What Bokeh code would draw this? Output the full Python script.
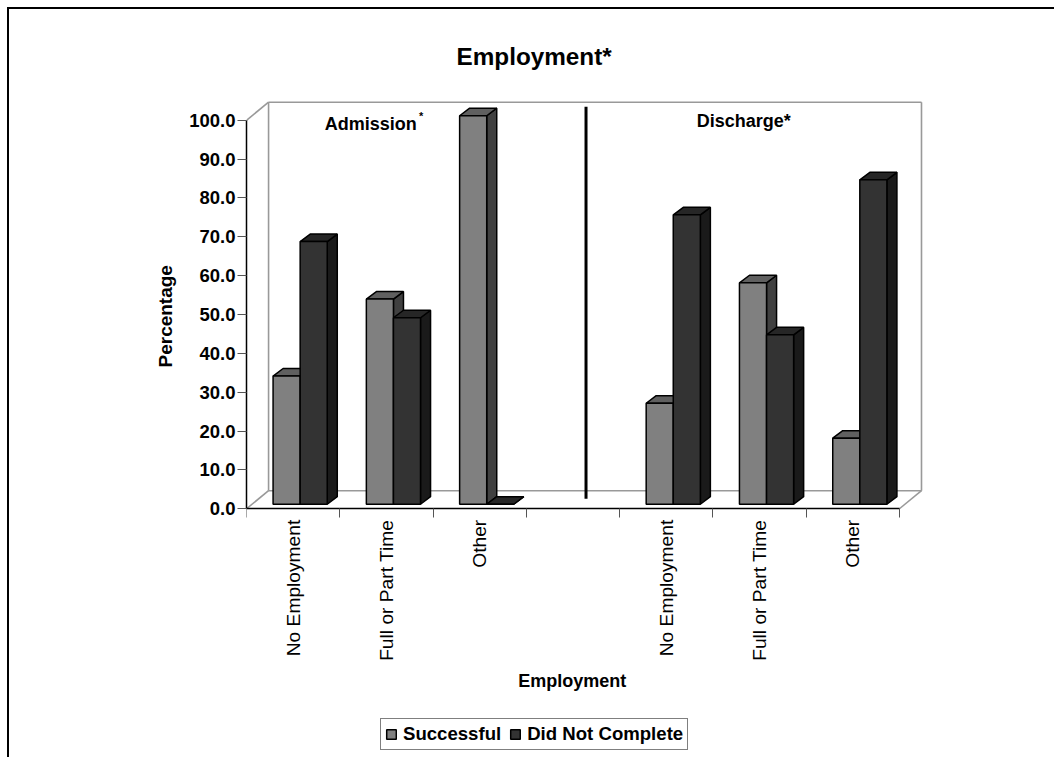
from math import pi
from bokeh.plotting import figure
from bokeh.models import (Range1d, FixedTicker, NumeralTickFormatter, Legend,
                          LegendItem, Title)
from bokeh.core.properties import value
from bokeh.embed import file_html
from bokeh.resources import INLINE

categories = ["No Employment", "Full or Part Time", "Other", "",
              "No Employment", "Full or Part Time", "Other"]
successful = [33.0, 52.8, 100.0, None, 26.0, 57.0, 17.0]
did_not_complete = [67.6, 48.0, 0.0, None, 74.5, 43.6, 83.5]
y_ticks = [0, 10, 20, 30, 40, 50, 60, 70, 80, 90, 100]

FONT = "Liberation Sans"
PX_X = 93.0          # pixels per category
PX_Y = 3.873         # pixels per percentage point
BAR_W = 27 / PX_X
SHIFT = 7 / PX_X
BASE = 4.5 / PX_Y
DX = 10 / PX_X
DY = 7.5 / PX_Y
WALL_X = 22 / PX_X
WALL_Y = 18 / PX_Y
N = len(categories)

p = figure(width=1045, height=748, output_backend="svg", toolbar_location=None,
           x_range=Range1d(0, 675 / PX_X), y_range=Range1d(-244 / PX_Y, 407 / PX_Y),
           min_border_left=237, min_border_right=133, min_border_top=91, min_border_bottom=6,
           background_fill_color="white", border_fill_color="white", outline_line_color=None)
p.styles = {"position": "absolute", "left": "7px", "top": "7px", "box-sizing": "content-box",
            "border-left": "2px solid black", "border-top": "2px solid black"}
p.grid.visible = False

p.title = Title(text="Employment*", align="left", offset=210, standoff=62,
                text_font=FONT, text_font_size="24.3px", text_font_style="bold", text_color="black")

# axes
yax = p.yaxis[0]
yax.ticker = FixedTicker(ticks=y_ticks)
yax.formatter = NumeralTickFormatter(format="0.0")
yax.bounds = (0, 100)
yax.major_tick_out = 9
yax.major_tick_in = 0
yax.minor_tick_out = 0
yax.minor_tick_in = 0
yax.major_label_standoff = 2
yax.major_label_text_font = FONT
yax.major_label_text_font_size = "18.5px"
yax.major_label_text_font_style = "bold"
yax.major_label_text_color = "black"
yax.axis_line_width = 1.5
yax.axis_line_color = "black"
yax.major_tick_line_color = "#555555"
p.add_layout(Title(text="Percentage", align="left", offset=386, standoff=21,
                   text_font=FONT, text_font_size="19px", text_font_style="bold", text_color="black"),
             "left")

xax = p.xaxis[0]
xax.fixed_location = 0
xax.ticker = FixedTicker(ticks=[i + 0.5 for i in range(N) if categories[i]],
                         minor_ticks=list(range(N + 1)))
xax.major_label_overrides = {i + 0.5: c for i, c in enumerate(categories) if c}
xax.bounds = (0, N)
xax.major_tick_out = 0
xax.major_tick_in = 0
xax.minor_tick_out = 9
xax.minor_tick_in = 0
xax.axis_line_width = 1.5
xax.axis_line_color = "black"
xax.minor_tick_line_color = "#555555"
xax.major_label_orientation = pi / 2
xax.major_label_standoff = 2
xax.major_label_text_font = FONT
xax.major_label_text_font_size = "19.2px"
xax.major_label_text_color = "black"

# walls of the 3D box
x_end = float(N)
y_top = 100.0
p.multi_line(
    xs=[[WALL_X, WALL_X], [WALL_X, x_end + WALL_X], [x_end + WALL_X, x_end + WALL_X], [WALL_X, x_end + WALL_X],
        [0, WALL_X], [0, WALL_X], [x_end, x_end + WALL_X]],
    ys=[[WALL_Y, y_top + WALL_Y], [y_top + WALL_Y, y_top + WALL_Y], [WALL_Y, y_top + WALL_Y], [WALL_Y, WALL_Y],
        [0, WALL_Y], [y_top, y_top + WALL_Y], [0, WALL_Y]],
    line_color="#999999", line_width=1.6)

# divider between admission and discharge
p.segment(x0=[3.64], x1=[3.64], y0=[2.6], y1=[103.5], line_color="black", line_width=3)


def draw_series(values, offset, front, side, top):
    idx = [i for i, v in enumerate(values) if v is not None]
    left = [i + 0.5 + SHIFT + offset * BAR_W for i in idx]
    right = [x + BAR_W for x in left]
    y1 = [values[i] + BASE for i in idx]
    p.patches(xs=[[r, r + DX, r + DX, r] for r in right],
              ys=[[BASE, BASE + DY, t + DY, t] for t in y1],
              fill_color=side, line_color="black", line_width=1.5)
    p.patches(xs=[[l, l + DX, r + DX, r] for l, r in zip(left, right)],
              ys=[[t, t + DY, t + DY, t] for t in y1],
              fill_color=top, line_color="black", line_width=1.5)
    return p.quad(left=left, right=right, bottom=[BASE] * len(idx), top=y1,
                  fill_color=front, line_color="black", line_width=1.5)


r_success = draw_series(successful, -1, "#808080", "#404040", "#606060")
r_fail = draw_series(did_not_complete, 0, "#333333", "#1a1a1a", "#262626")

# section headings
p.text(x=[(325 - 247) / PX_X], y=[(508 - 124) / PX_Y], text=["Admission"], text_font=value(FONT),
       text_font_size="18px", text_font_style="bold", text_color="black", text_baseline="alphabetic")
p.text(x=[(419 - 247) / PX_X], y=[(508 - 116) / PX_Y], text=["*"], text_font=value(FONT),
       text_font_size="11px", text_font_style="bold", text_color="black", text_baseline="alphabetic")
p.text(x=[(696 - 247) / PX_X], y=[(508 - 121) / PX_Y], text=["Discharge*"], text_font=value(FONT),
       text_font_size="18px", text_font_style="bold", text_color="black", text_baseline="alphabetic")
p.text(x=[(518 - 247) / PX_X], y=[(508 - 680) / PX_Y], text=["Employment"], text_font=value(FONT),
       text_font_size="18px", text_font_style="bold", text_color="black", text_baseline="alphabetic")

legend = Legend(items=[LegendItem(label="Successful", renderers=[r_success]),
                       LegendItem(label="Did Not Complete", renderers=[r_fail])],
                orientation="horizontal", location=(134, 3), margin=0, padding=4, spacing=8,
                glyph_width=12, glyph_height=12, label_standoff=6,
                label_text_font=FONT, label_text_font_size="18.6px", label_text_font_style="bold",
                label_text_color="black",
                border_line_color="black", border_line_width=1.5, background_fill_color="white")
p.add_layout(legend, "center")

open("out.html", "w").write(file_html(p, INLINE))
